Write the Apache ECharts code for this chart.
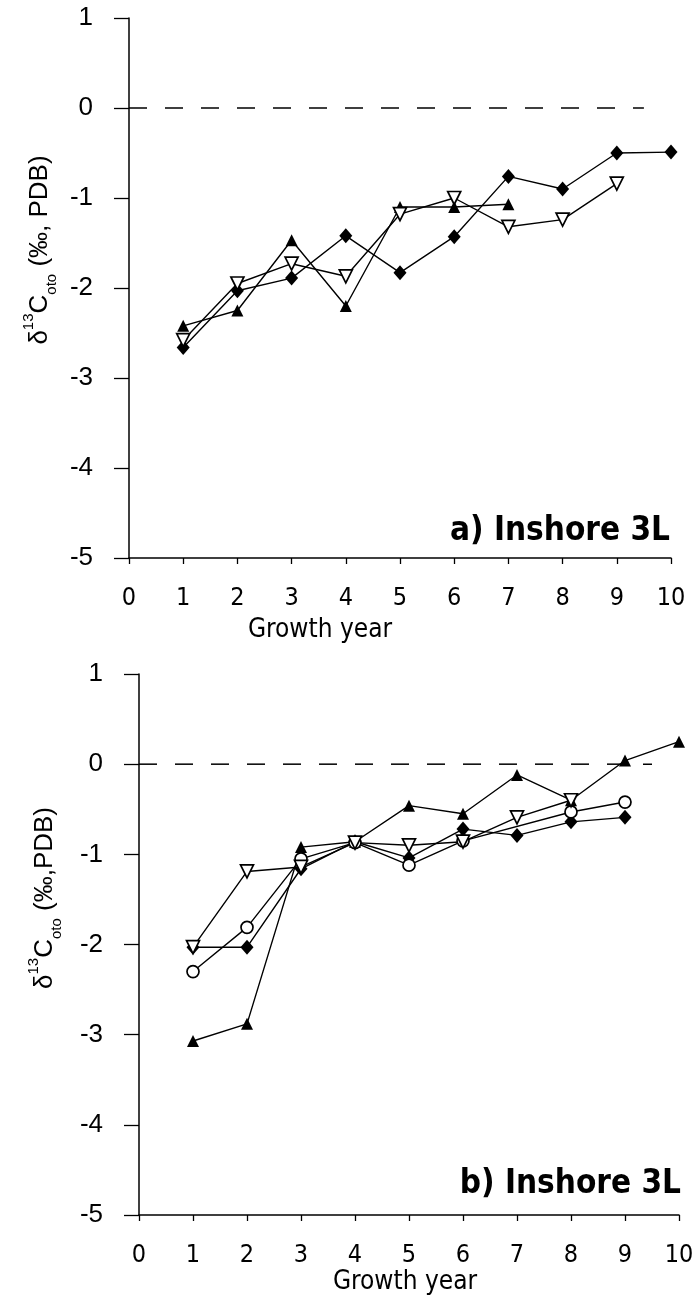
<!DOCTYPE html>
<html>
<head>
<meta charset="utf-8">
<script src="https://cdn.jsdelivr.net/npm/echarts@6/dist/echarts.min.js"></script>
<style>
  html, body { margin: 0; padding: 0; background: #fff; }
  #chart { width: 698px; height: 1299px; }
</style>
</head>
<body>
<div id="chart"></div>
<script>
// Growth years and otolith δ13C values (‰, PDB)
const years = [1, 2, 3, 4, 5, 6, 7, 8, 9, 10];
const xTicks = [0, 1, 2, 3, 4, 5, 6, 7, 8, 9, 10];
const yTicks = [1, 0, -1, -2, -3, -4, -5];

// a) Inshore 3L
const aTriangle = [-2.42, -2.25, -1.47, -2.20, -1.10, -1.10, -1.07];
const aDiamond  = [-2.66, -2.03, -1.89, -1.42, -1.83, -1.43, -0.76, -0.90, -0.50, -0.49];
const aOpenTri  = [-2.58, -1.95, -1.73, -1.87, -1.18, -1.00, -1.32, -1.24, -0.84];

// b) Inshore 3L
const bTriangle = [-3.07, -2.88, -0.92, -0.86, -0.46, -0.55, -0.12, -0.40, 0.04, 0.25];
const bDiamond  = [-2.03, -2.03, -1.16, -0.86, -1.04, -0.72, -0.79, -0.64, -0.59];
const bOpenTri  = [-2.03, -1.19, -1.14, -0.87, -0.90, -0.86, -0.59, -0.40];
const bCircleYears = [1, 2, 3, 4, 5, 6, 8, 9];
const bCircle   = [-2.30, -1.81, -1.05, -0.87, -1.12, -0.85, -0.53, -0.42];

// zero reference line extent
const zeroLine = [[0, 0], [9.5, 0]];

const pair = (xs, ys) => ys.map((v, i) => [xs[i], v]);

const LABEL_FONT = '"Liberation Sans", Arial, sans-serif';
const NARROW_FONT = '"Liberation Sans Narrow", "DejaVu Sans Condensed", "Liberation Sans", sans-serif';

function xAxisFor(gridIndex) {
  return {
    gridIndex, type: 'value', min: 0, max: 10, interval: 1,
    axisLine: { onZero: false, lineStyle: { color: '#000', width: 1.5 } },
    axisTick: { show: true, inside: false, length: 6, lineStyle: { color: '#000', width: 1.3 } },
    axisLabel: { color: '#000', fontSize: 25, fontFamily: NARROW_FONT, margin: 28,
      formatter: v => xTicks.includes(v) ? String(v) : '' },
    splitLine: { show: false }
  };
}
function yAxisFor(gridIndex) {
  return {
    gridIndex, type: 'value', min: -5, max: 1, interval: 1,
    axisLine: { onZero: false, lineStyle: { color: '#000', width: 1.5 } },
    axisTick: { show: true, inside: false, length: 15, lineStyle: { color: '#000', width: 1.3 } },
    axisLabel: { color: '#000', fontSize: 26, fontFamily: LABEL_FONT, margin: 36,
      formatter: v => yTicks.includes(v) ? String(v) : '' },
    splitLine: { show: false }
  };
}

const lineBase = { type: 'line', lineStyle: { color: '#000', width: 1.4 }, animation: false, z: 3 };
const filledTri = { symbol: 'triangle', symbolSize: 12, itemStyle: { color: '#000' } };
const filledDia = { symbol: 'diamond', symbolSize: [13, 15], itemStyle: { color: '#000' } };
const openTri = { symbol: 'triangle', symbolRotate: 180, symbolSize: 13,
  itemStyle: { color: '#fff', borderColor: '#000', borderWidth: 1.7 } };
const openCircle = { symbol: 'circle', symbolSize: 12,
  itemStyle: { color: '#fff', borderColor: '#000', borderWidth: 1.7 } };

function zeroSeries(idx) {
  return { type: 'line', xAxisIndex: idx, yAxisIndex: idx, data: zeroLine, symbol: 'none',
    lineStyle: { color: '#000', width: 1.5, type: [18, 18] }, animation: false, z: 1 };
}

function yTitle(x, y, unitText) {
  return { type: 'text', x, y, rotation: Math.PI / 2, style: {
    text: '{m|δ}{s|13}{m|C}{u|oto}{m|' + unitText + '}', align: 'center', verticalAlign: 'middle',
    rich: {
      m: { fontSize: 26, fontFamily: LABEL_FONT, lineHeight: 38, verticalAlign: 'middle', fill: '#000' },
      s: { fontSize: 15, fontFamily: LABEL_FONT, lineHeight: 38, verticalAlign: 'top', fill: '#000' },
      u: { fontSize: 15, fontFamily: LABEL_FONT, lineHeight: 38, verticalAlign: 'bottom', fill: '#000' }
    } } };
}

const chart = echarts.init(document.getElementById('chart'), null, { renderer: 'canvas' });
chart.setOption({
  backgroundColor: '#fff',
  grid: [
    { left: 129, top: 18, width: 542, height: 540 },
    { left: 139, top: 674, width: 540, height: 541 }
  ],
  xAxis: [xAxisFor(0), xAxisFor(1)],
  yAxis: [yAxisFor(0), yAxisFor(1)],
  series: [
    zeroSeries(0),
    Object.assign({}, lineBase, filledTri, { xAxisIndex: 0, yAxisIndex: 0, data: pair(years, aTriangle) }),
    Object.assign({}, lineBase, filledDia, { xAxisIndex: 0, yAxisIndex: 0, data: pair(years, aDiamond) }),
    Object.assign({}, lineBase, openTri, { xAxisIndex: 0, yAxisIndex: 0, data: pair(years, aOpenTri) }),
    zeroSeries(1),
    Object.assign({}, lineBase, filledTri, { xAxisIndex: 1, yAxisIndex: 1, data: pair(years, bTriangle) }),
    Object.assign({}, lineBase, filledDia, { xAxisIndex: 1, yAxisIndex: 1, data: pair(years, bDiamond) }),
    Object.assign({}, lineBase, openCircle, { xAxisIndex: 1, yAxisIndex: 1, data: pair(bCircleYears, bCircle) }),
    Object.assign({}, lineBase, openTri, { xAxisIndex: 1, yAxisIndex: 1, data: pair(years, bOpenTri) })
  ],
  graphic: [
    { type: 'text', x: 670, y: 531, style: { text: 'a) Inshore 3L', align: 'right', verticalAlign: 'middle',
      font: 'bold 33px ' + NARROW_FONT, fill: '#000' } },
    { type: 'text', x: 681, y: 1184, style: { text: 'b) Inshore 3L', align: 'right', verticalAlign: 'middle',
      font: 'bold 33px ' + NARROW_FONT, fill: '#000' } },
    { type: 'text', x: 320, y: 630, style: { text: 'Growth year', align: 'center', verticalAlign: 'middle',
      font: '26px ' + NARROW_FONT, fill: '#000' } },
    { type: 'text', x: 405, y: 1282, style: { text: 'Growth year', align: 'center', verticalAlign: 'middle',
      font: '26px ' + NARROW_FONT, fill: '#000' } },
    yTitle(40, 250, ' (‰, PDB)'),
    yTitle(45, 898, ' (‰,PDB)')
  ]
});
</script>
</body>
</html>
